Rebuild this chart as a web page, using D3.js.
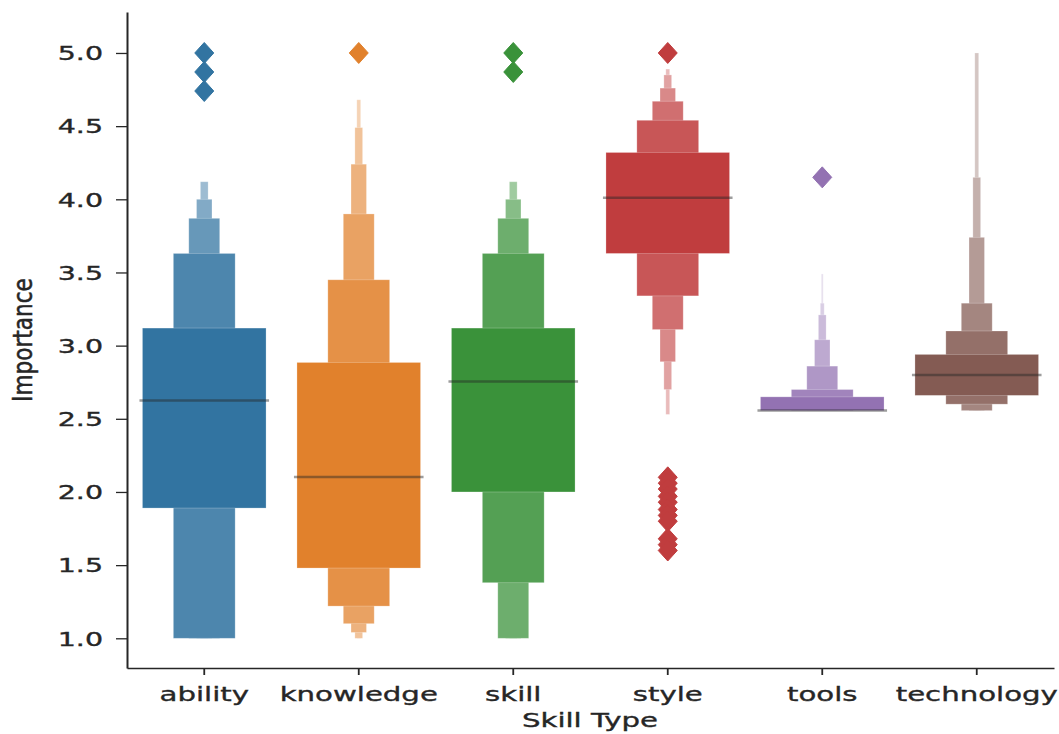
<!DOCTYPE html>
<html lang="en">
<head>
<meta charset="UTF-8">
<title>Importance by Skill Type</title>
<script src="https://d3js.org/d3.v7.min.js"></script>
<style>
  body { margin: 0; background: #fff; }
  svg { display: block; }
  text { font-family: "DejaVu Sans", sans-serif; fill: #262626; stroke: #262626; stroke-width: 0.35px; }
</style>
</head>
<body>
<div id="chart"></div>
<script>
// categories and their colours (seaborn default palette, desaturated)
var categories = ["ability", "knowledge", "skill", "style", "tools", "technology"];
var colors = ["#3274a1", "#e1812c", "#3a923a", "#c03d3e", "#9372b2", "#845b53"];

// letter-value boxes, innermost first: [lower, upper]
var abilityBoxes = [[1.89, 3.12], [1.0, 3.63], [1.0, 3.87], [1.0, 4.0], [1.0, 4.12]];
var knowledgeBoxes = [[1.48, 2.885], [1.22, 3.45], [1.10, 3.90], [1.04, 4.24], [1.0, 4.49], [1.0, 4.68]];
var skillBoxes = [[2.0, 3.12], [1.38, 3.63], [1.0, 3.87], [1.0, 4.0], [1.0, 4.12]];
var styleBoxes = [[3.63, 4.32], [3.34, 4.54], [3.11, 4.67], [2.89, 4.76], [2.70, 4.85], [2.53, 4.89]];
var toolsBoxes = [[2.556, 2.65], [2.556, 2.70], [2.556, 2.86], [2.556, 3.04], [2.556, 3.21], [2.556, 3.29], [2.556, 3.49]];
var technologyBoxes = [[2.66, 2.94], [2.60, 3.10], [2.556, 3.29], [2.556, 3.74], [2.556, 4.15], [2.556, 5.0]];

var medians = [2.625, 2.103, 2.755, 4.01, 2.557, 2.80];

// outliers
var abilityOutliers = [5.0, 4.87, 4.74];
var knowledgeOutliers = [5.0];
var skillOutliers = [5.0, 4.87];
var styleOutliers = [5.0, 2.10, 2.06, 2.02, 1.97, 1.93, 1.88, 1.84, 1.80, 1.68, 1.64, 1.60];
var toolsOutliers = [4.15];
var technologyOutliers = [];

var yTicks = [1.0, 1.5, 2.0, 2.5, 3.0, 3.5, 4.0, 4.5, 5.0];

var boxes = [abilityBoxes, knowledgeBoxes, skillBoxes, styleBoxes, toolsBoxes, technologyBoxes];
var outliers = [abilityOutliers, knowledgeOutliers, skillOutliers, styleOutliers, toolsOutliers, technologyOutliers];

var W = 1059, H = 734;
var stretch = 1.46; // the picture is stretched horizontally

var svg = d3.select("#chart").append("svg").attr("width", W).attr("height", H);

var x = d3.scaleBand().domain(categories).range([127, 1054]);
var y = d3.scaleLinear().domain([0.797, 5.28]).range([668, 12]);

var boxW = x.bandwidth() * 0.8;

categories.forEach(function (c, ci) {
    var cx = x(c) + x.bandwidth() / 2;
    var g = svg.append("g");
    var lv = boxes[ci];
    var mix = d3.interpolateRgb(colors[ci], "#ffffff");
    // draw outermost (narrow) first so wider boxes sit on top
    for (var i = lv.length - 1; i >= 0; i--) {
        var w = boxW * Math.pow(0.5, i);
        g.append("rect")
            .attr("x", cx - w / 2)
            .attr("width", w)
            .attr("y", y(lv[i][1]))
            .attr("height", y(lv[i][0]) - y(lv[i][1]))
            .attr("fill", mix(Math.min(0.85, i * 0.13)))
            .attr("stroke", "#ffffff")
            .attr("stroke-opacity", 0.3)
            .attr("stroke-width", 0.8);
    }
    g.append("line")
        .attr("x1", cx - boxW / 2 - 3).attr("x2", cx + boxW / 2 + 3)
        .attr("y1", y(medians[ci])).attr("y2", y(medians[ci]))
        .attr("stroke", "#262626").attr("stroke-opacity", 0.45)
        .attr("stroke-width", 2.5);
    g.selectAll("path.out").data(outliers[ci]).enter().append("path")
        .attr("class", "out")
        .attr("d", "M0,-10.5L9.5,0L0,10.5L-9.5,0Z")
        .attr("transform", function (d) { return "translate(" + cx + "," + y(d) + ")"; })
        .attr("fill", colors[ci])
        .attr("stroke", colors[ci])
        .attr("stroke-width", 1)
        .attr("stroke-linejoin", "round");
});

// y axis
var yAxis = svg.append("g").attr("transform", "translate(127,0)")
    .call(d3.axisLeft(y).tickValues(yTicks).tickFormat(d3.format(".1f")).tickSize(11).tickSizeOuter(0));
yAxis.select(".domain").attr("stroke", "#262626").attr("stroke-width", 2);
yAxis.selectAll(".tick line").attr("stroke", "#262626").attr("stroke-width", 1.3);
yAxis.selectAll(".tick text")
    .attr("x", null).attr("dy", "0.35em")
    .attr("transform", "translate(-24,0) scale(" + stretch + ",1)")
    .attr("text-anchor", "end")
    .style("font-size", "19.5px").style("font-family", "DejaVu Sans").attr("fill", "#262626");

// x axis
var xAxis = svg.append("g").attr("transform", "translate(0,668)")
    .call(d3.axisBottom(x).tickSize(7).tickSizeOuter(0));
xAxis.select(".domain").attr("stroke", "#262626").attr("stroke-width", 1.4);
xAxis.selectAll(".tick line").attr("stroke", "#262626").attr("stroke-width", 1.8);
xAxis.selectAll(".tick text")
    .attr("y", 0).attr("dy", null)
    .attr("transform", "translate(0,33) scale(" + stretch + ",1)")
    .attr("text-anchor", "middle")
    .style("font-size", "20px").style("font-family", "DejaVu Sans").attr("fill", "#262626");

// axis titles
svg.append("text")
    .attr("transform", "translate(590,727) scale(" + stretch + ",1)")
    .attr("text-anchor", "middle")
    .style("font-size", "20px")
    .text("Skill Type");

svg.append("text")
    .attr("transform", "translate(31.5,340) rotate(-90) scale(1.2," + stretch + ")")
    .attr("text-anchor", "middle")
    .style("font-size", "18px")
    .text("Importance");
</script>
</body>
</html>
